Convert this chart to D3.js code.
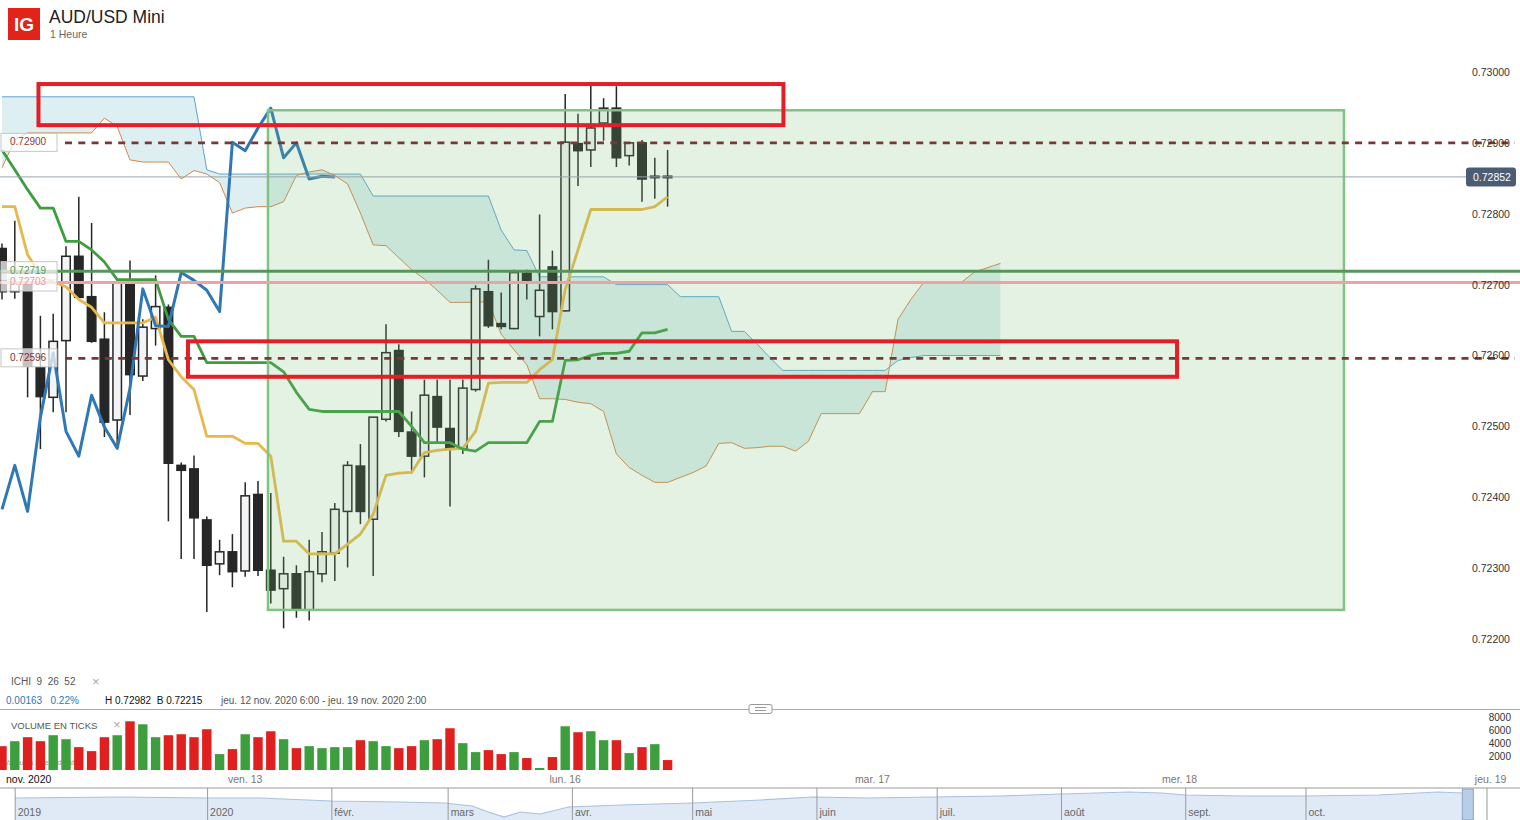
<!DOCTYPE html>
<html><head><meta charset="utf-8">
<script src="https://cdn.jsdelivr.net/npm/d3@7"></script>
<style>
body{margin:0;background:#fff;}
svg{display:block;font-family:Arial,"Liberation Sans",sans-serif;}
</style>
</head><body>
<svg id="c" width="1520" height="820"></svg>
<script>
// ---------- DATA ----------
const opens = [0.72751,0.72690,0.72704,0.72583,0.72541,0.72621,0.72740,0.72683,0.72623,0.72509,
0.72703,0.72571,0.72638,0.72668,0.72445,0.72440,0.72368,0.72306,0.72323,0.72296,
0.72404,0.72297,0.72271,0.72292,0.72241,0.72292,0.72321,0.72380,0.72444,0.72369,
0.72510,0.72607,0.72492,0.72458,0.72542,0.72497,0.72468,0.72552,0.72690,0.72645,
0.72638,0.72716,0.72655,0.72725,0.72663,0.72899,0.72890,0.72928,0.72949,0.72882,
0.72900,0.72851,0.72853];
const highs = [0.72758,0.72790,0.72704,0.72656,0.72659,0.72754,0.72824,0.72787,0.72661,0.72704,
0.72734,0.72651,0.72713,0.72672,0.72449,0.72459,0.72373,0.72340,0.72348,0.72421,
0.72423,0.72406,0.72316,0.72304,0.72340,0.72351,0.72392,0.72451,0.72475,0.72513,
0.72644,0.72616,0.72521,0.72566,0.72566,0.72566,0.72566,0.72699,0.72735,0.72689,
0.72721,0.72721,0.72799,0.72748,0.72969,0.72941,0.72982,0.72963,0.72980,0.72901,
0.72904,0.72879,0.72890];
const lows = [0.72679,0.72680,0.72541,0.72468,0.72520,0.72520,0.72682,0.72618,0.72485,0.72472,
0.72516,0.72564,0.72614,0.72366,0.72313,0.72313,0.72238,0.72290,0.72273,0.72288,
0.72289,0.72250,0.72215,0.72230,0.72226,0.72280,0.72282,0.72301,0.72362,0.72289,
0.72507,0.72485,0.72437,0.72428,0.72477,0.72387,0.72461,0.72549,0.72639,0.72637,
0.72637,0.72679,0.72627,0.72637,0.72662,0.72839,0.72866,0.72903,0.72866,0.72868,
0.72817,0.72821,0.72810];
const closes = [0.72690,0.72704,0.72585,0.72542,0.72620,0.72740,0.72682,0.72620,0.72506,0.72703,
0.72573,0.72640,0.72669,0.72448,0.72438,0.72371,0.72304,0.72323,0.72295,0.72402,
0.72297,0.72269,0.72292,0.72241,0.72295,0.72323,0.72383,0.72445,0.72380,0.72513,
0.72604,0.72493,0.72458,0.72544,0.72499,0.72469,0.72554,0.72694,0.72642,0.72641,
0.72717,0.72706,0.72692,0.72662,0.72901,0.72889,0.72921,0.72949,0.72879,0.72900,
0.72849,0.72853,0.72852];
const volumes = [3600,4350,4950,4350,5250,4650,3450,2850,4950,5250,
7350,6900,4950,5250,5400,4950,6150,2400,3150,5400,
4950,5850,4650,3300,3600,3300,3450,3450,4500,4350,
3600,3300,3600,4500,4650,6300,4050,2700,3000,2400,
2700,1800,300,1950,6600,5700,5850,4500,4500,2550,
3450,3900,1500];
const tenkan = [0.72810,0.72810,0.72742,0.72714,0.72704,0.72697,0.72679,0.72668,0.72646,0.72646,
0.72646,0.72646,0.72654,0.72594,0.72570,0.72552,0.72486,0.72486,0.72486,0.72476,
0.72476,0.72458,0.72338,0.72338,0.72320,0.72320,0.72320,0.72334,0.72348,0.72376,
0.72431,0.72434,0.72435,0.72463,0.72466,0.72468,0.72469,0.72493,0.72561,0.72562,
0.72562,0.72562,0.72580,0.72594,0.72693,0.72749,0.72806,0.72806,0.72806,0.72806,
0.72806,0.72810,0.72824];
const kijun = [0.72890,0.72862,0.72834,0.72808,0.72808,0.72761,0.72761,0.72749,0.72732,0.72707,
0.72707,0.72707,0.72707,0.72651,0.72627,0.72627,0.72590,0.72590,0.72590,0.72590,
0.72590,0.72590,0.72577,0.72548,0.72524,0.72521,0.72521,0.72521,0.72521,0.72521,
0.72521,0.72521,0.72500,0.72477,0.72477,0.72477,0.72468,0.72465,0.72477,0.72477,
0.72477,0.72477,0.72507,0.72507,0.72593,0.72594,0.72600,0.72603,0.72603,0.72606,
0.72632,0.72632,0.72637];
const senkouA = [0.72965,0.72965,0.72965,0.72965,0.72965,0.72965,0.72965,0.72965,0.72965,0.72965,
0.72965,0.72965,0.72965,0.72965,0.72965,0.72965,0.72862,0.72856,0.72856,0.72856,
0.72856,0.72856,0.72856,0.72856,0.72856,0.72856,0.72856,0.72856,0.72856,0.72825,
0.72825,0.72825,0.72825,0.72825,0.72825,0.72825,0.72825,0.72825,0.72825,0.72777,
0.72749,0.72748,0.72711,0.72711,0.72711,0.72711,0.72711,0.72711,0.72700,0.72700,
0.72700,0.72700,0.72700,0.72683,0.72683,0.72683,0.72683,0.72634,0.72634,0.72616,
0.72597,0.72579,0.72579,0.72579,0.72579,0.72579,0.72579,0.72579,0.72579,0.72579,
0.72593,0.72597,0.72600,0.72600,0.72600,0.72600,0.72600,0.72600,0.72600];
const senkouB = [0.72865,0.72904,0.72914,0.72914,0.72914,0.72914,0.72914,0.72914,0.72935,0.72923,
0.72876,0.72873,0.72873,0.72873,0.72849,0.72861,0.72856,0.72844,0.72801,0.72808,
0.72810,0.72810,0.72817,0.72854,0.72859,0.72862,0.72854,0.72842,0.72801,0.72756,
0.72755,0.72738,0.72721,0.72708,0.72692,0.72675,0.72675,0.72675,0.72676,0.72630,
0.72608,0.72587,0.72539,0.72539,0.72538,0.72534,0.72532,0.72521,0.72461,0.72442,
0.72431,0.72421,0.72421,0.72428,0.72435,0.72444,0.72476,0.72477,0.72469,0.72470,
0.72472,0.72472,0.72465,0.72479,0.72518,0.72518,0.72518,0.72518,0.72549,0.72549,
0.72651,0.72679,0.72703,0.72704,0.72704,0.72704,0.72718,0.72724,0.72730];
const chikouShift = 26;
const priceTicks = [0.730,0.729,0.728,0.727,0.726,0.725,0.724,0.723,0.722];
const volumeTicks = [8000,6000,4000,2000];
const lastPrice = 0.72852;
const dashedLevels = [0.72900,0.72596];
const greenLevel = 0.72719;
const pinkLevel = 0.72703;
// zones: [startBar, endBar, topPrice, bottomPrice]
const greenZone = [20.78,104.84,0.72946,0.72241];
const redZones = [[2.85,61.05,0.72983,0.72925],[14.53,91.8,0.72620,0.72570]];
const timeTickBars = [19,44,68,92,116.3];
const timeTickLabels = ["ven. 13","lun. 16","mar. 17","mer. 18","jeu. 19"];
const navMonthDays = [-48,0,31,60,91,121,152,182,213,244,274];
const navMonthLabels = ["2019","2020","févr.","mars","avr.","mai","juin","juil.","août","sept.","oct."];
const navDays = [-48,-22,0,13,31,48,59,66,70,74,78,83,90,103,121,138,151,165,181,198,213,230,238,244,258,274,292,307,313];
const navPrices = [0.694,0.700,0.694,0.694,0.676,0.670,0.664,0.646,0.610,0.580,0.610,0.598,0.640,0.652,0.664,0.682,0.700,0.694,0.700,0.706,0.718,0.730,0.724,0.712,0.706,0.706,0.712,0.730,0.724];

// ---------- SCALES ----------
const svg = d3.select("#c");
const x = d3.scaleLinear().domain([0,118]).range([2,2+12.8*118]);
const y = d3.scaleLinear().domain([0.722,0.730]).range([639,72]);
const yv = d3.scaleLinear().domain([0,8000]).range([770,717]);
const xn = d3.scaleLinear().domain([0,274]).range([207.6,1306]);
const yn = d3.scaleLinear().domain([0.58,0.70]).range([817,797]);
const f5 = d3.format(".5f");

// ---------- HEADER ----------
svg.append("rect").attr("x",8).attr("y",8).attr("width",32).attr("height",32).attr("fill","#e2231a");
svg.append("text").attr("x",24).attr("y",31).attr("text-anchor","middle").attr("fill","#fff")
  .attr("font-size",19).attr("font-weight","bold").text("IG");
svg.append("text").attr("x",49).attr("y",23).attr("font-size",17.5).attr("fill","#222").text("AUD/USD Mini");
svg.append("text").attr("x",50).attr("y",38).attr("font-size",10.5).attr("fill","#666").text("1 Heure");

// ---------- MAIN PANE ----------
const main = svg.append("g");
main.append("defs").append("clipPath").attr("id","clipMain")
  .append("rect").attr("x",0).attr("y",50).attr("width",1466).attr("height",655);
const pane = main.append("g").attr("clip-path","url(#clipMain)");

// cloud
const cloudIdx = d3.range(senkouA.length);
pane.append("path").datum(cloudIdx)
  .attr("d",d3.area().x(i=>x(i)).y0(i=>y(senkouB[i])).y1(i=>y(senkouA[i])))
  .attr("fill","rgba(160,210,215,0.35)");
pane.append("path").datum(senkouA)
  .attr("d",d3.line().x((d,i)=>x(i)).y(d=>y(d)))
  .attr("fill","none").attr("stroke","#5fa3cf").attr("stroke-width",1);
pane.append("path").datum(senkouB)
  .attr("d",d3.line().x((d,i)=>x(i)).y(d=>y(d)))
  .attr("fill","none").attr("stroke","#d9854a").attr("stroke-width",1);

// candles
const candles = d3.range(opens.length).map(i=>({i,o:opens[i],h:highs[i],l:lows[i],c:closes[i]}));
const cg = pane.append("g");
cg.selectAll("line").data(candles).join("line")
  .attr("x1",d=>x(d.i)).attr("x2",d=>x(d.i))
  .attr("y1",d=>y(d.h)).attr("y2",d=>y(d.l))
  .attr("stroke","#262626").attr("stroke-width",1.5);
cg.selectAll("rect").data(candles).join("rect")
  .attr("x",d=>x(d.i)-4.25).attr("width",8.5)
  .attr("y",d=>y(Math.max(d.o,d.c)))
  .attr("height",d=>Math.max(1.5,Math.abs(y(d.o)-y(d.c))))
  .attr("fill",d=>d.c>=d.o?"#f3f4f6":"#262626")
  .attr("stroke","#262626").attr("stroke-width",1.5);

// ichimoku lines
const lineGen = d3.line().x((d,i)=>x(i)).y(d=>y(d));
pane.append("path").datum(tenkan).attr("d",lineGen)
  .attr("fill","none").attr("stroke","#e8b84a").attr("stroke-width",2.8).attr("stroke-linejoin","round");
pane.append("path").datum(kijun).attr("d",lineGen)
  .attr("fill","none").attr("stroke","#3f9c3f").attr("stroke-width",2.8).attr("stroke-linejoin","round");
pane.append("path").datum(closes.slice(chikouShift)).attr("d",lineGen)
  .attr("fill","none").attr("stroke","#2f77b5").attr("stroke-width",3).attr("stroke-linejoin","round");

// green zone
pane.append("rect")
  .attr("x",x(greenZone[0])).attr("y",y(greenZone[2]))
  .attr("width",x(greenZone[1])-x(greenZone[0])).attr("height",y(greenZone[3])-y(greenZone[2]))
  .attr("fill","rgba(120,190,120,0.2)").attr("stroke","#80c382").attr("stroke-width",2.5);

// last price line
main.append("line").attr("x1",0).attr("x2",1466).attr("y1",y(lastPrice)).attr("y2",y(lastPrice))
  .attr("stroke","#9aa4ac").attr("stroke-width",1);

// horizontal levels
main.append("line").attr("x1",0).attr("x2",1520).attr("y1",y(greenLevel)).attr("y2",y(greenLevel))
  .attr("stroke","#56965a").attr("stroke-width",3);
main.append("line").attr("x1",0).attr("x2",1520).attr("y1",y(pinkLevel)).attr("y2",y(pinkLevel))
  .attr("stroke","#e8a5a5").attr("stroke-width",3);
main.selectAll("line.dash").data(dashedLevels).join("line").attr("class","dash")
  .attr("x1",65).attr("x2",1515).attr("y1",d=>y(d)).attr("y2",d=>y(d))
  .attr("stroke","#7d3636").attr("stroke-width",2.6).attr("stroke-dasharray","7,6.3");

// red zones
main.selectAll("rect.red").data(redZones).join("rect").attr("class","red")
  .attr("x",d=>x(d[0])).attr("y",d=>y(d[2]))
  .attr("width",d=>x(d[1])-x(d[0])).attr("height",d=>y(d[3])-y(d[2]))
  .attr("fill","none").attr("stroke","#e31e24").attr("stroke-width",4);

// left labels
const leftLabels = [
  {v:dashedLevels[0],c:"#8b3a3a"},
  {v:greenLevel,c:"#5c9a5c"},
  {v:pinkLevel,c:"#e59c9c"},
  {v:dashedLevels[1],c:"#7d3030"}
];
main.selectAll("rect.lb").data(leftLabels).join("rect").attr("class","lb")
  .attr("x",1).attr("y",d=>y(d.v)-9.5).attr("width",56).attr("height",18)
  .attr("fill","rgba(255,255,255,0.72)").attr("stroke","#c6c6c6").attr("stroke-width",1);
main.selectAll("text.lt").data(leftLabels).join("text").attr("class","lt")
  .attr("x",10).attr("y",d=>y(d.v)-1).attr("dy","0.35em")
  .attr("font-size",10).attr("fill",d=>d.c).text(d=>f5(d.v));

// right price axis
const ax = main.append("g").attr("transform","translate(1466,0)")
  .call(d3.axisRight(y).tickValues(priceTicks).tickSize(0).tickPadding(6).tickFormat(f5));
ax.select(".domain").remove();
ax.selectAll("text").attr("font-size",10.5).attr("fill","#333").attr("font-family","Arial,'Liberation Sans',sans-serif");
main.append("rect").attr("x",1466).attr("y",y(lastPrice)-9.5).attr("width",50).attr("height",19)
  .attr("rx",3).attr("fill","#4b5d75");
main.append("text").attr("x",1473).attr("y",y(lastPrice)).attr("dy","0.35em")
  .attr("font-size",10.5).attr("fill","#fff").text(f5(lastPrice));

// ---------- INFO ROWS ----------
svg.append("text").attr("x",11).attr("y",685).attr("font-size",10).attr("fill","#555")
  .attr("xml:space","preserve").text("ICHI  9  26  52");
svg.append("text").attr("x",92).attr("y",686).attr("font-size",13).attr("fill","#aaa").text("×");
const info = svg.append("text").attr("x",6).attr("y",704).attr("font-size",10).attr("xml:space","preserve");
info.append("tspan").attr("fill","#2a7ab8").text("0.00163   0.22%");
info.append("tspan").attr("x",105).attr("fill","#111").text("H 0.72982  B 0.72215");
info.append("tspan").attr("x",221).attr("fill","#555").text("jeu. 12 nov. 2020 6:00 - jeu. 19 nov. 2020 2:00");
svg.append("line").attr("x1",0).attr("x2",1520).attr("y1",709.5).attr("y2",709.5).attr("stroke","#aaa");
svg.append("rect").attr("x",749).attr("y",704.5).attr("width",23).attr("height",9).attr("rx",2)
  .attr("fill","#fff").attr("stroke","#999");
svg.append("line").attr("x1",755).attr("x2",766).attr("y1",707.5).attr("y2",707.5).attr("stroke","#999");
svg.append("line").attr("x1",755).attr("x2",766).attr("y1",710.5).attr("y2",710.5).attr("stroke","#999");

// ---------- VOLUME PANE ----------
svg.append("text").attr("x",4).attr("y",765).attr("font-size",8).attr("fill","#999").text("Valeur à titre indicatif");
svg.append("g").selectAll("rect").data(volumes).join("rect")
  .attr("x",(d,i)=>x(i)-4.7).attr("width",9.4)
  .attr("y",d=>yv(d)).attr("height",d=>yv(0)-yv(d))
  .attr("fill",(d,i)=>closes[i]>=opens[i]?"#3d9e3d":"#e0201f");
svg.append("text").attr("x",11).attr("y",729).attr("font-size",9.5).attr("fill","#555").text("VOLUME EN TICKS");
svg.append("text").attr("x",113).attr("y",729).attr("font-size",13).attr("fill","#aaa").text("×");
const vax = svg.append("g").attr("transform","translate(1511,0)")
  .call(d3.axisLeft(yv).tickValues(volumeTicks).tickSize(0).tickPadding(0).tickFormat(d3.format("d")));
vax.select(".domain").remove();
vax.selectAll("text").attr("font-size",10).attr("fill","#333").attr("font-family","Arial,'Liberation Sans',sans-serif");

// ---------- TIME AXIS ----------
svg.append("text").attr("x",6).attr("y",783).attr("font-size",10.5).attr("fill","#111").text("nov. 2020");
svg.selectAll("text.tt").data(timeTickBars).join("text").attr("class","tt")
  .attr("x",d=>x(d)).attr("y",783).attr("text-anchor","middle")
  .attr("font-size",10.5).attr("fill","#777").text((d,i)=>timeTickLabels[i]);

// ---------- NAVIGATOR ----------
svg.append("line").attr("x1",0).attr("x2",1520).attr("y1",788).attr("y2",788).attr("stroke","#999");
svg.append("path").datum(d3.range(navDays.length))
  .attr("d",d3.area().x(i=>xn(navDays[i])).y0(820).y1(i=>yn(navPrices[i])))
  .attr("fill","#e0eaf6");
svg.append("path").datum(d3.range(navDays.length))
  .attr("d",d3.line().x(i=>xn(navDays[i])).y(i=>yn(navPrices[i])))
  .attr("fill","none").attr("stroke","#a9c1de").attr("stroke-width",1.2);
svg.selectAll("line.nm").data(navMonthDays).join("line").attr("class","nm")
  .attr("x1",d=>xn(d)).attr("x2",d=>xn(d)).attr("y1",788).attr("y2",820)
  .attr("stroke","#9a9a9a").attr("stroke-width",1);
svg.selectAll("text.nl").data(navMonthDays).join("text").attr("class","nl")
  .attr("x",d=>xn(d)+2.5).attr("y",816).attr("font-size",10.5).attr("fill","#666")
  .text((d,i)=>navMonthLabels[i]);
svg.append("rect").attr("x",xn(313)).attr("y",789).attr("width",11).attr("height",31)
  .attr("fill","#b8cee8").attr("stroke","#8aa3c0");
svg.append("line").attr("x1",1487).attr("x2",1487).attr("y1",788).attr("y2",820).attr("stroke","#999");
</script>
</body></html>
